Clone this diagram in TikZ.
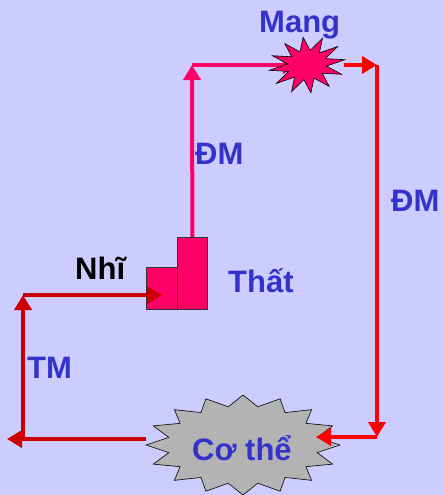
\documentclass[tikz,border=0pt]{standalone}
\usepackage{fontspec}
\setmainfont{Liberation Sans}
\usetikzlibrary{arrows.meta}
\definecolor{bg}{HTML}{CCCCFF}
\definecolor{pinkc}{HTML}{FF0066}
\definecolor{redc}{HTML}{FF0000}
\definecolor{dredc}{HTML}{CC0000}
\definecolor{bluec}{HTML}{3333CC}
\definecolor{grayc}{HTML}{B3B3B3}
\begin{document}
\begin{tikzpicture}[x=1pt,y=-1pt,
  lbl/.style={font=\fontsize{31}{36}\selectfont\bfseries, text=bluec, anchor=base west, inner sep=0pt},
  arr/.style={line width=4pt, -{Triangle[length=15pt,width=17pt]}},
  box/.style={draw=black!80, fill=pinkc, line width=0.8pt, inner sep=0pt, anchor=north west},
  starline/.style={draw=black, line width=0.6pt}]
\fill[bg] (0,0) rectangle (444,495);
\useasboundingbox (0,0) rectangle (444,495);

% heart chambers
\node[box, minimum width=31pt, minimum height=42pt] (atrium) at (146,267) {};
\node[box, minimum width=30pt, minimum height=72pt] (vent) at (177,237) {};

% coordinates
\coordinate (mang) at (307,65);
\coordinate (p1) at (192,65);
\coordinate (mangin) at (298,65);
\coordinate (mangout) at (344,65);
\coordinate (p2) at (377,65);
\coordinate (p3) at (377,437);
\coordinate (cothec) at (243,445);
\coordinate (cotheIn) at (316,437);
\coordinate (cotheOut) at (146,439);
\coordinate (p4) at (7,439);
\coordinate (p5) at (23,439);
\coordinate (p6) at (23,295);
\coordinate (atrIn) at (162,295);

% pink arteries
\draw[arr, pinkc] (vent.north) -- (p1);
\draw[arr, pinkc] (p1) -- (mangin);

% Mang star
\filldraw[starline, fill=pinkc, shift={(mang)}, rotate=8] (0:38 and 28)
  \foreach \i [evaluate=\i as \r using {ifthenelse(isodd(\i),0.52,1)}] in {1,...,23} { -- ({\i*15}:{38*\r} and {28*\r}) } -- cycle;

% red
\draw[arr, redc] (mangout) -- (p2);
\draw[arr, redc] (p2) -- (p3);

% Co the star
\filldraw[starline, fill=grayc, shift={(cothec)}] (0:97 and 50)
  \foreach \i [evaluate=\i as \r using {ifthenelse(isodd(\i),0.78,1)}] in {1,...,31} { -- ({\i*11.25}:{97*\r} and {50*\r}) } -- cycle;

\draw[arr, redc] (p3) -- (cotheIn);

% dark red veins
\draw[arr, dredc] (cotheOut) -- (p4);
\draw[arr, dredc] (p5) -- (p6);
\draw[arr, dredc] (p6) -- (atrIn);

% labels
\node[lbl] (mangT) at (259,33) {Mang};
\node[lbl] (dm1) at (195,164) {ĐM};
\node[lbl] (dm2) at (391,211) {ĐM};
\node[lbl, text=black] (nhi) at (75,279) {Nhĩ};
\node[lbl] (that) at (228,292) {Thất};
\node[lbl] (tm) at (27,378) {TM};
\node[lbl] (cothe) at (192,460) {Cơ thể};
\end{tikzpicture}
\end{document}
